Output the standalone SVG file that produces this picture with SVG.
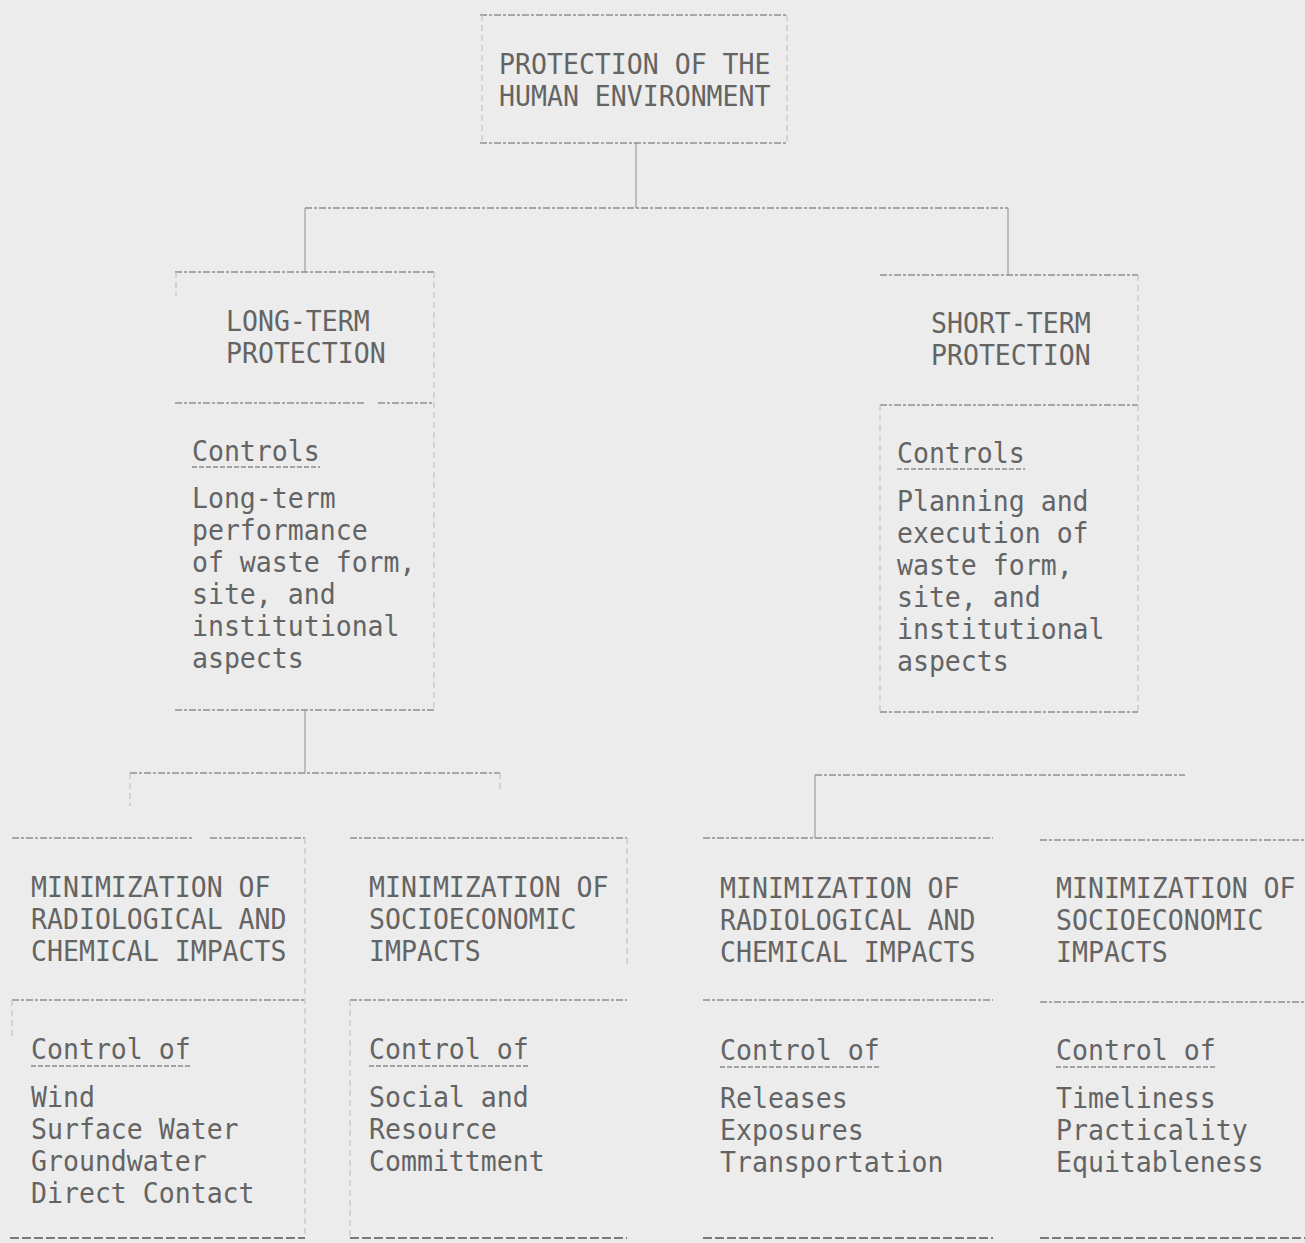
<svg xmlns="http://www.w3.org/2000/svg" width="1305" height="1243" viewBox="0 0 1305 1243">
<style>
  .bg{fill:#ececec}
  .h{stroke:#8f8f8f;stroke-width:1.6;stroke-dasharray:7 2 3 2;fill:none}
  .hd{stroke:#7a7a7a;stroke-width:2;stroke-dasharray:9 3;fill:none}
  .v{stroke:#c6c6c6;stroke-width:1.3;stroke-dasharray:6 4;fill:none}
  .c{stroke:#a8a8a8;stroke-width:1.4;fill:none}
  .u{stroke:#8a8a8a;stroke-width:1.4;stroke-dasharray:5 2;fill:none}
  .t{transform:scale(0.915,1)}
  text{font-family:"DejaVu Sans Mono","Liberation Mono",monospace;font-size:29px;fill:#646464}
</style>
<rect class="bg" x="0" y="0" width="1305" height="1243"/>

<g id="connectors">
  <line class="c" x1="636" y1="143" x2="636" y2="208"/>
  <line class="h" x1="305" y1="208" x2="1008" y2="208"/>
  <line class="c" x1="305" y1="208" x2="305" y2="272"/>
  <line class="c" x1="1008" y1="208" x2="1008" y2="275"/>
  <line class="c" x1="305" y1="710" x2="305" y2="773"/>
  <line class="h" x1="130" y1="773" x2="500" y2="773"/>
  <line class="v" x1="130" y1="773" x2="130" y2="806"/>
  <line class="v" x1="500" y1="773" x2="500" y2="792"/>
  <line class="h" x1="815" y1="775" x2="1185" y2="775"/>
  <line class="c" x1="815" y1="775" x2="815" y2="838"/>
</g>

<g id="n-top">
  <line class="h" x1="480" y1="15" x2="787" y2="15"/>
  <line class="h" x1="480" y1="143" x2="787" y2="143"/>
  <line class="v" x1="482" y1="15" x2="482" y2="143"/>
  <line class="v" x1="787" y1="15" x2="787" y2="143"/>
  <g class="t">
    <text x="545.4" y="74">PROTECTION OF THE</text>
    <text x="545.4" y="106">HUMAN ENVIRONMENT</text>
  </g>
</g>

<g id="n-long">
  <line class="h" x1="175" y1="272" x2="434" y2="272"/>
  <line class="h" x1="175" y1="403" x2="366" y2="403"/>
  <line class="h" x1="378" y1="403" x2="434" y2="403"/>
  <line class="h" x1="175" y1="710" x2="434" y2="710"/>
  <line class="v" x1="176" y1="272" x2="176" y2="296"/>
  <line class="v" x1="434" y1="272" x2="434" y2="710"/>
  <line class="u" x1="192" y1="467" x2="320" y2="467"/>
  <g class="t">
    <text x="247" y="331">LONG-TERM</text>
    <text x="247" y="363">PROTECTION</text>
    <text x="209.8" y="461">Controls</text>
    <text x="209.8" y="508">Long-term</text>
    <text x="209.8" y="540">performance</text>
    <text x="209.8" y="572">of waste form,</text>
    <text x="209.8" y="604">site, and</text>
    <text x="209.8" y="636">institutional</text>
    <text x="209.8" y="668">aspects</text>
  </g>
</g>

<g id="n-short">
  <line class="h" x1="880" y1="275" x2="1138" y2="275"/>
  <line class="h" x1="880" y1="405" x2="1138" y2="405"/>
  <line class="h" x1="880" y1="712" x2="1138" y2="712"/>
  <line class="v" x1="880" y1="405" x2="880" y2="712"/>
  <line class="v" x1="1138" y1="275" x2="1138" y2="712"/>
  <line class="u" x1="897" y1="469" x2="1025" y2="469"/>
  <g class="t">
    <text x="1017.5" y="333">SHORT-TERM</text>
    <text x="1017.5" y="365">PROTECTION</text>
    <text x="980.3" y="463">Controls</text>
    <text x="980.3" y="511">Planning and</text>
    <text x="980.3" y="543">execution of</text>
    <text x="980.3" y="575">waste form,</text>
    <text x="980.3" y="607">site, and</text>
    <text x="980.3" y="639">institutional</text>
    <text x="980.3" y="671">aspects</text>
  </g>
</g>

<g id="n-lt-rad">
  <line class="h" x1="12" y1="838" x2="194" y2="838"/>
  <line class="h" x1="210" y1="838" x2="305" y2="838"/>
  <line class="h" x1="12" y1="1000" x2="305" y2="1000"/>
  <line class="hd" x1="10" y1="1238" x2="305" y2="1238"/>
  <line class="v" x1="305" y1="838" x2="305" y2="1238"/>
  <line class="v" x1="12" y1="1000" x2="12" y2="1040"/>
  <line class="u" x1="31" y1="1066" x2="191" y2="1066"/>
  <g class="t">
    <text x="33.9" y="897">MINIMIZATION OF</text>
    <text x="33.9" y="929">RADIOLOGICAL AND</text>
    <text x="33.9" y="961">CHEMICAL IMPACTS</text>
    <text x="33.9" y="1059">Control of</text>
    <text x="33.9" y="1107">Wind</text>
    <text x="33.9" y="1139">Surface Water</text>
    <text x="33.9" y="1171">Groundwater</text>
    <text x="33.9" y="1203">Direct Contact</text>
  </g>
</g>

<g id="n-lt-soc">
  <line class="h" x1="350" y1="838" x2="627" y2="838"/>
  <line class="h" x1="350" y1="1000" x2="627" y2="1000"/>
  <line class="hd" x1="350" y1="1238" x2="627" y2="1238"/>
  <line class="v" x1="350" y1="1000" x2="350" y2="1238"/>
  <line class="v" x1="627" y1="838" x2="627" y2="965"/>
  <line class="u" x1="369" y1="1066" x2="529" y2="1066"/>
  <g class="t">
    <text x="403.3" y="897">MINIMIZATION OF</text>
    <text x="403.3" y="929">SOCIOECONOMIC</text>
    <text x="403.3" y="961">IMPACTS</text>
    <text x="403.3" y="1059">Control of</text>
    <text x="403.3" y="1107">Social and</text>
    <text x="403.3" y="1139">Resource</text>
    <text x="403.3" y="1171">Committment</text>
  </g>
</g>

<g id="n-st-rad">
  <line class="h" x1="703" y1="838" x2="993" y2="838"/>
  <line class="h" x1="703" y1="1000" x2="993" y2="1000"/>
  <line class="hd" x1="703" y1="1238" x2="993" y2="1238"/>
  <line class="u" x1="720" y1="1067" x2="880" y2="1067"/>
  <g class="t">
    <text x="786.9" y="898">MINIMIZATION OF</text>
    <text x="786.9" y="930">RADIOLOGICAL AND</text>
    <text x="786.9" y="962">CHEMICAL IMPACTS</text>
    <text x="786.9" y="1060">Control of</text>
    <text x="786.9" y="1108">Releases</text>
    <text x="786.9" y="1140">Exposures</text>
    <text x="786.9" y="1172">Transportation</text>
  </g>
</g>

<g id="n-st-soc">
  <line class="h" x1="1040" y1="840" x2="1305" y2="840"/>
  <line class="h" x1="1040" y1="1002" x2="1305" y2="1002"/>
  <line class="hd" x1="1040" y1="1238" x2="1305" y2="1238"/>
  <line class="u" x1="1056" y1="1067" x2="1216" y2="1067"/>
  <g class="t">
    <text x="1154.1" y="898">MINIMIZATION OF</text>
    <text x="1154.1" y="930">SOCIOECONOMIC</text>
    <text x="1154.1" y="962">IMPACTS</text>
    <text x="1154.1" y="1060">Control of</text>
    <text x="1154.1" y="1108">Timeliness</text>
    <text x="1154.1" y="1140">Practicality</text>
    <text x="1154.1" y="1172">Equitableness</text>
  </g>
</g>
</svg>
